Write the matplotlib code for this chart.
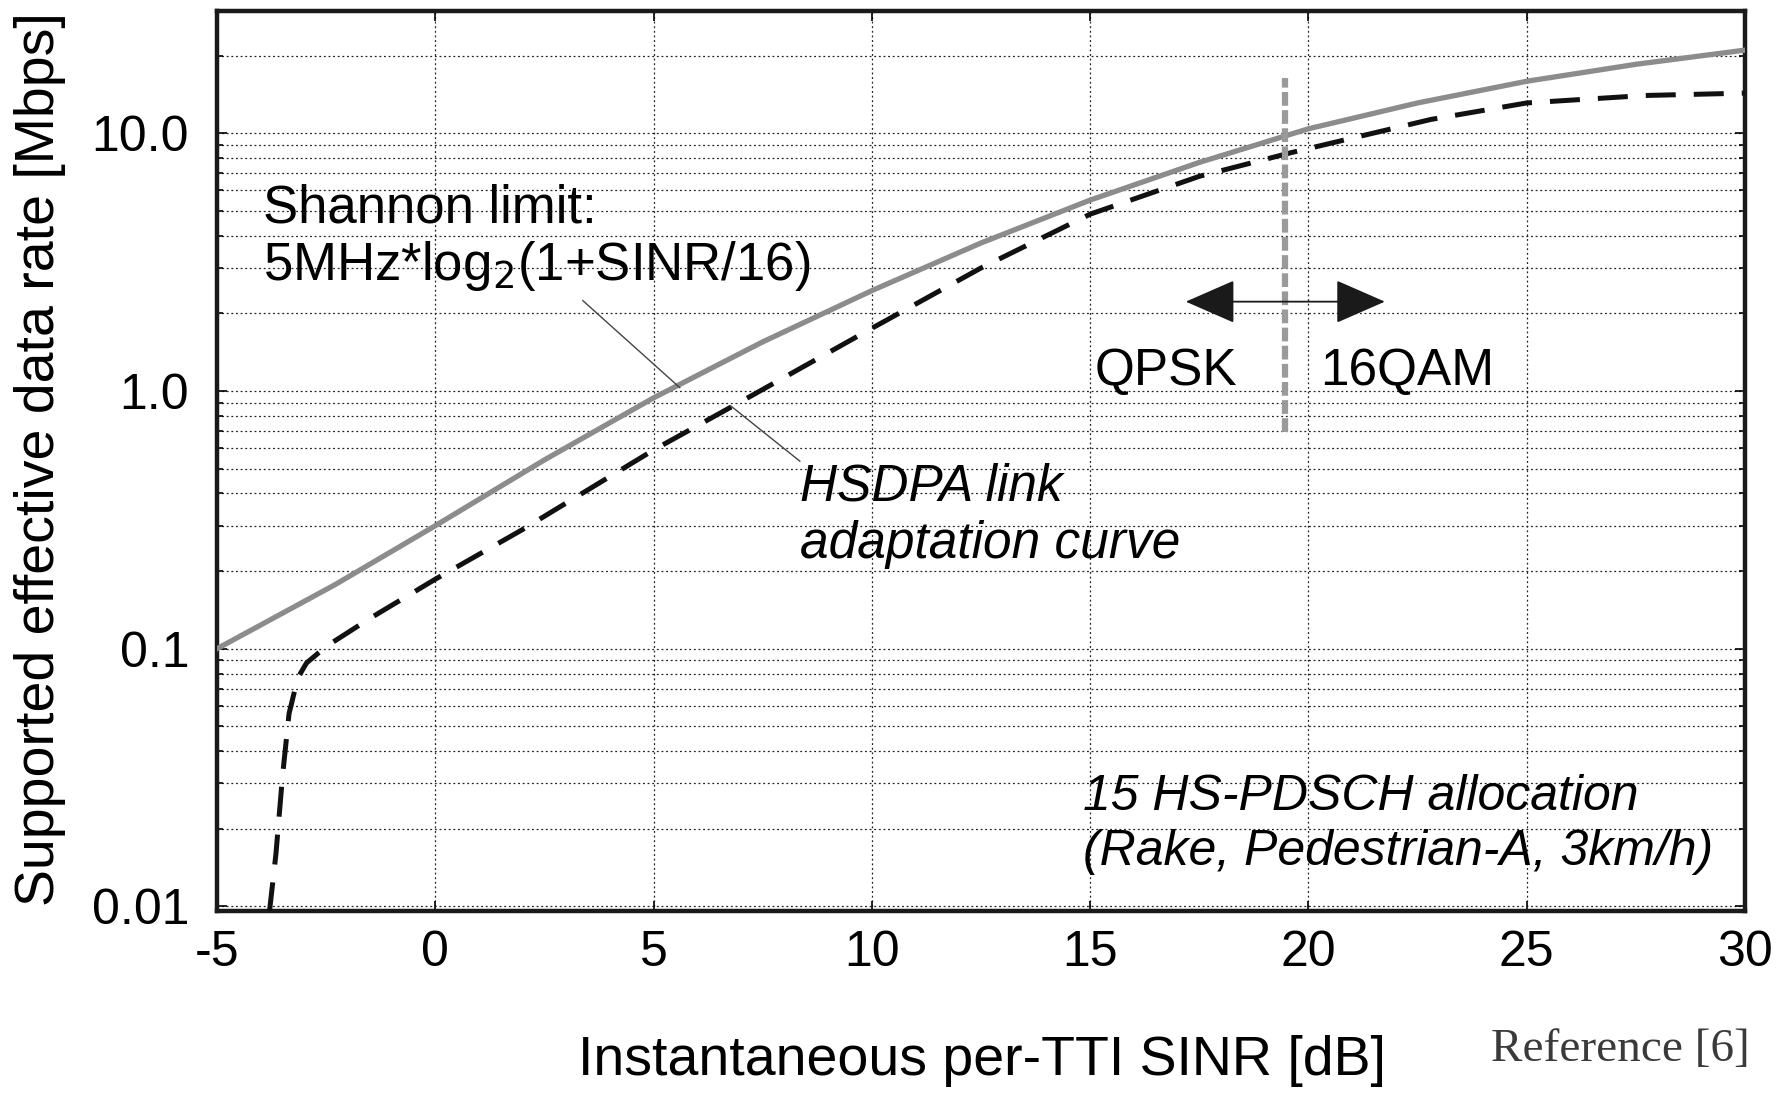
import matplotlib
matplotlib.use('Agg')
import matplotlib.pyplot as plt
from matplotlib.ticker import LogLocator, NullFormatter

plt.rcParams['font.family'] = ['Liberation Sans', 'DejaVu Sans']

# Shannon limit curve (grey, solid)
sinr_shannon = [-5, -2.3, 0, 2.5, 5, 7.5, 10, 12.5, 15, 17.5, 20, 22.5, 25, 27.5, 30]
rate_shannon = [0.100, 0.177, 0.30, 0.54, 0.94, 1.55, 2.45, 3.75, 5.5, 7.7, 10.4, 13.1, 15.9, 18.5, 21.0]

# HSDPA link adaptation curve (black, dashed)
sinr_hsdpa = [-3.80, -3.65, -3.5, -3.35, -3.15, -2.95, -2.5, -1.5, 0, 2, 5, 7.3, 10, 12.5, 15,
              17.5, 19.6, 22.8, 25, 27.7, 30]
rate_hsdpa = [0.0095, 0.016, 0.032, 0.056, 0.077, 0.088, 0.102, 0.131, 0.186, 0.29, 0.59, 0.97,
              1.75, 3.0, 4.85, 6.8, 8.4, 11.3, 13.1, 14.0, 14.3]

# QPSK / 16QAM switching point
switch_sinr = 19.46
switch_span = [0.69, 16.4]

x_ticks = [-5, 0, 5, 10, 15, 20, 25, 30]
y_ticks = [0.01, 0.1, 1.0, 10.0]
y_ticklabels = ['0.01', '0.1', '1.0', '10.0']

fig = plt.figure(figsize=(17.92, 10.93), dpi=100)
ax = fig.add_axes([0.1211, 0.1665, 0.8527, 0.8235])

ax.set_yscale('log')
ax.set_xlim(-5, 30)
ax.set_ylim(0.0096, 29.8)

gridstyle = dict(color='#222222', linestyle=(0, (1.5, 2.2)), linewidth=0.9)
ax.grid(True, which='both', axis='y', **gridstyle)
ax.grid(True, which='major', axis='x', **gridstyle)
ax.set_axisbelow(True)

ax.plot(sinr_shannon, rate_shannon, color='#8c8c8c', lw=3.8, zorder=3)
ax.plot(sinr_hsdpa, rate_hsdpa, color='#111111', lw=3.6, linestyle=(0, (6, 3.6)), zorder=3)

ax.plot([switch_sinr, switch_sinr], switch_span, color='#9a9a9a', lw=4.5,
        linestyle=(0, (2.2, 0.7)), zorder=4)

# double arrow
ax.annotate('', xy=(17.19, 2.22), xytext=(21.75, 2.22),
            arrowprops=dict(arrowstyle='<|-|>,head_length=3.2,head_width=1.4',
                            color='#1a1a1a', lw=1.3, shrinkA=0, shrinkB=0), zorder=5)

# leader lines
ax.plot([3.38, 5.6], [2.24, 1.03], color='#444444', lw=1.0, zorder=5)
ax.plot([6.77, 8.35], [0.874, 0.534], color='#444444', lw=1.0, zorder=5)

ax.set_xticks(x_ticks)
ax.set_xticklabels([str(v) for v in x_ticks])
ax.set_yticks(y_ticks)
ax.set_yticklabels(y_ticklabels)
ax.yaxis.set_minor_locator(LogLocator(base=10, subs=[2, 3, 4, 5, 6, 7, 8, 9]))
ax.yaxis.set_minor_formatter(NullFormatter())
ax.xaxis.set_minor_locator(plt.NullLocator())

ax.tick_params(which='both', direction='in', top=True, right=True, width=1.2)
ax.tick_params(which='major', length=7, labelsize=36)
ax.tick_params(which='minor', length=4)
ax.tick_params(axis='x', pad=14)
ax.tick_params(axis='y', pad=20)

for s in ax.spines.values():
    s.set_linewidth(3.2)
    s.set_color('#1a1a1a')

fig.text(0.548, 0.029, 'Instantaneous per-TTI SINR [dB]', fontsize=40,
         ha='center', va='center')
fig.text(0.0223, 0.58, 'Supported effective data rate [Mbps]', fontsize=40,
         rotation=90, ha='center', va='center')

# annotations
ax.text(-3.95, 5.1, 'Shannon limit:', fontsize=38, va='center', ha='left')
ax.text(-3.95, 3.06, r'5MHz*log$_2$(1+SINR/16)', fontsize=38, va='center', ha='left')
ax.text(8.35, 0.423, 'HSDPA link', fontsize=37, style='italic', va='center', ha='left')
ax.text(8.35, 0.254, 'adaptation curve', fontsize=37, style='italic', va='center', ha='left')
ax.text(15.10, 1.19, 'QPSK', fontsize=37, va='center', ha='left')
ax.text(20.26, 1.19, '16QAM', fontsize=37, va='center', ha='left')
ax.text(14.84, 0.0267, '15 HS-PDSCH allocation', fontsize=36, style='italic', va='center', ha='left')
ax.text(14.84, 0.0163, '(Rake, Pedestrian-A, 3km/h)', fontsize=36, style='italic',
        va='center', ha='left')

fig.text(0.832, 0.040, 'Reference [6]', fontsize=34, family='Liberation Serif',
         color='#3a3a3a', ha='left', va='center')

fig.savefig('out.png', dpi=100)
